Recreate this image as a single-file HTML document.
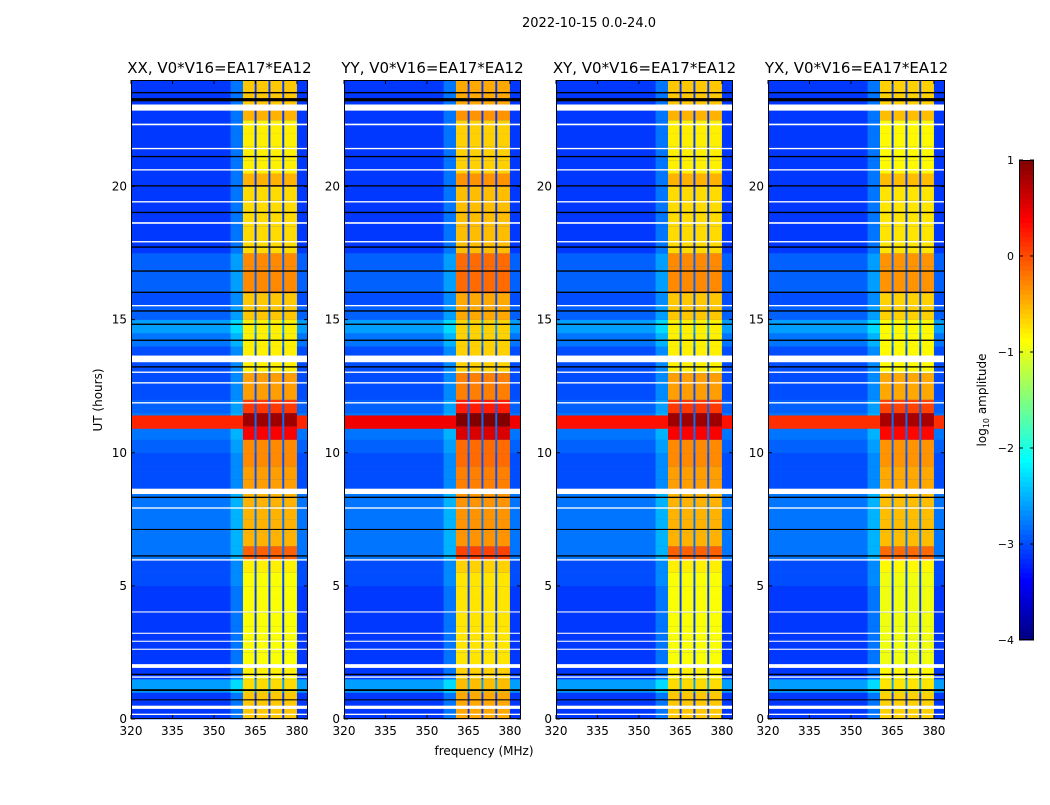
<!DOCTYPE html>
<html><head><meta charset="utf-8">
<style>
body{margin:0;background:#fff;}
svg text{font-family:"DejaVu Sans","Liberation Sans",sans-serif;fill:#000;}
</style></head>
<body>
<svg id="fig" width="1050" height="800" viewBox="0 0 1050 800" xmlns="http://www.w3.org/2000/svg">
<rect width="1050" height="800" fill="#fff"/>
<text x="589" y="27" font-size="13" text-anchor="middle">2022-10-15 0.0-24.0</text>
<text x="484" y="755" font-size="12" text-anchor="middle">frequency (MHz)</text>
<text transform="translate(102,400) rotate(-90)" font-size="12" text-anchor="middle">UT (hours)</text>
<g id="panels"></g>
<g id="cbar"></g>
</svg>
<script>
// ---- data ----
const panelTitles = ["XX, V0*V16=EA17*EA12","YY, V0*V16=EA17*EA12","XY, V0*V16=EA17*EA12","YX, V0*V16=EA17*EA12"];
const xTicks = [320,335,350,365,380];
const yTicks = [0,5,10,15,20];
const cbarTicks = [1,0,-1,-2,-3,-4];
// band (360-380 MHz) log amplitude per half-hour bin, 48 bins (0..24h)
const bandLevel = [-0.6,-0.6,-0.7,-0.8,-0.9,-0.9,-0.9,-0.9,-0.9,-0.9,-0.9,-0.8,
  -0.1,-0.5,-0.5,-0.5,-0.5,-0.4,-0.4,-0.3,-0.3,0.4,0.85,0.1,
  -0.4,-0.4,-0.8,-0.8,-0.8,-0.8,-0.6,-0.6,-0.3,-0.3,-0.3,-0.7,-0.7,-0.7,-0.7,-0.7,
  -0.5,-0.8,-0.8,-0.8,-0.8,-0.5,-0.6,-0.6];
// background level per half-hour bin
const bgLevel = [-3.1,-3.1,-2.6,-3.1,-3.1,-3.1,-3.1,-3.1,-3.1,-3.1,-3.0,-3.0,
  -2.8,-2.8,-2.8,-2.8,-2.8,-3.0,-3.0,-3.0,-2.9,-2.8,-2.8,-2.9,
  -3.0,-3.0,-3.0,-3.0,-2.8,-2.6,-2.9,-3.0,-2.9,-2.9,-2.9,-3.1,-3.1,-3.1,-3.1,-3.1,
  -3.1,-3.1,-3.1,-3.1,-3.1,-3.1,-3.1,-3.1];
// per-panel offsets
const panelBandOffset = [0, 0.15, 0, -0.05];
const panelLineLevel = [0.2, 0.45, 0.3, 0.15];
// full-width RFI line (hours)
const rfiLine = [10.9, 11.4];
// sub-bands (MHz)
const subBands = [[360.5,364.7],[365.4,369.7],[370.4,374.7],[375.4,380.0]];
// flagged rows [start,end] hours
const whiteRows = [[22.85,23.08],[13.4,13.65],[8.45,8.65],[1.92,2.06],[0.38,0.5],[22.3,22.36],[21.4,21.45],[20.6,20.65],[19.4,19.45],[18.6,18.66],[17.9,17.95],[15.5,15.55],[13.0,13.05],[12.6,12.65],[11.85,11.9],[7.9,7.95],[5.95,6.0],[4.0,4.04],[3.2,3.24],[2.9,2.94],[2.6,2.64],[1.55,1.6],[0.15,0.2]];
const blackRows = [[23.2,23.32],[23.5,23.55],[21.1,21.15],[20.0,20.05],[19.0,19.05],[17.7,17.75],[16.8,16.85],[16.0,16.05],[15.3,15.35],[14.8,14.85],[14.2,14.25],[13.2,13.25],[8.3,8.35],[7.1,7.14],[6.1,6.15],[1.65,1.7],[1.05,1.12],[0.7,0.74]];

// ---- helpers ----
const NS="http://www.w3.org/2000/svg";
const lefts=[131,344,556,768], W=177, TOP=80, BOT=719;
function jet(v){
  let t=(v+4)/5; t=Math.max(0,Math.min(1,t));
  function c(x){return Math.max(0,Math.min(1,x));}
  const r=c(1.5-Math.abs(4*t-3)), g=c(1.5-Math.abs(4*t-2)), b=c(1.5-Math.abs(4*t-1));
  return `rgb(${Math.round(r*255)},${Math.round(g*255)},${Math.round(b*255)})`;
}
function mk(tag,attrs,parent){const e=document.createElementNS(NS,tag);for(const k in attrs)e.setAttribute(k,attrs[k]);parent.appendChild(e);return e;}
const panelsG=document.getElementById('panels');

for(let p=0;p<4;p++){
  const L=lefts[p];
  const xs=f=>L+(f-320)/64*W;
  const ys=h=>BOT-h/24*(BOT-TOP);
  const g=mk('g',{},panelsG);
  
  
  for(let i=0;i<bandLevel.length;i++){
    const h0=i*0.5,h1=h0+0.5;
    const y=ys(h1),hh=ys(h0)-ys(h1);
    const bg=mk('rect',{x:xs(320),y:y,width:W,height:hh+0.3,fill:jet(bgLevel[i])},g);
    
    
    const tr=mk('rect',{x:xs(356),y:y,width:xs(360.5)-xs(356),height:hh+0.3,fill:jet(bgLevel[i]+0.3)},g);
    
    
    for(const sb of subBands){
      const r=mk('rect',{x:xs(sb[0]),y:y,width:xs(sb[1])-xs(sb[0]),height:hh+0.3,fill:jet(bandLevel[i]+panelBandOffset[p])},g);
      
      
    }
  }
  // RFI line
  const rl=mk('rect',{x:xs(320),y:ys(rfiLine[1]),width:xs(360.5)-xs(320),height:ys(rfiLine[0])-ys(rfiLine[1]),fill:jet(panelLineLevel[p])},g);
  
  
  const rl2=mk('rect',{x:xs(380),y:ys(rfiLine[1]),width:xs(384)-xs(380),height:ys(rfiLine[0])-ys(rfiLine[1]),fill:jet(panelLineLevel[p])},g);
  
  
  for(const w of whiteRows){
    const r=mk('rect',{x:L,y:ys(w[1]),width:W,height:Math.max(1,ys(w[0])-ys(w[1])),fill:'#fff'},g);
    
    
  }
  for(const b of blackRows){
    const r=mk('rect',{x:L,y:ys(b[1]),width:W,height:Math.max(1,ys(b[0])-ys(b[1])),fill:'#000'},g);
    
    
  }
  const fr=mk('rect',{x:L+0.5,y:TOP+0.5,width:W-1,height:BOT-TOP-1,fill:'none',stroke:'#000','stroke-width':1},g);
  
  
  const t=mk('text',{x:L+W/2,y:TOP-7,'font-size':15,'text-anchor':'middle'},g);
  t.textContent=panelTitles[p];
  
  
  for(const f of xTicks){
    const x=xs(f);
    mk('line',{x1:x,x2:x,y1:BOT,y2:BOT-4,stroke:'#000'},g);
    mk('line',{x1:x,x2:x,y1:TOP,y2:TOP+4,stroke:'#000'},g);
    const tx=mk('text',{x:x,y:BOT+16,'font-size':12,'text-anchor':'middle'},g);
    tx.textContent=f;
    
    
  }
  for(const h of yTicks){
    const y=ys(h);
    mk('line',{x1:L,x2:L+4,y1:y,y2:y,stroke:'#000'},g);
    mk('line',{x1:L+W,x2:L+W-4,y1:y,y2:y,stroke:'#000'},g);
    const ty=mk('text',{x:L-4,y:y+4,'font-size':12,'text-anchor':'end'},g);
    ty.textContent=h;
    
    
  }
}
// colorbar
const cb=document.getElementById('cbar');


const CX=1019,CW=15,CT=160,CB=640;
const cys=v=>CB-(v+4)/5*(CB-CT);
for(let i=0;i<100;i++){
  const v0=-4+i*0.05;
  mk('rect',{x:CX,y:cys(v0+0.05),width:CW,height:(CB-CT)/100+0.5,fill:jet(v0+0.025)},cb);
}
mk('rect',{x:CX+0.5,y:CT+0.5,width:CW-1,height:CB-CT-1,fill:'none',stroke:'#000'},cb);
for(const v of cbarTicks){
  const y=cys(v);
  mk('line',{x1:CX,x2:CX+4,y1:y,y2:y,stroke:'#000'},cb);
  mk('line',{x1:CX+CW,x2:CX+CW-4,y1:y,y2:y,stroke:'#000'},cb);
  const t=mk('text',{x:CX-5,y:y+4,'font-size':11,'text-anchor':'end'},cb);
  t.textContent=(v<0?'\u2212'+(-v):v);
  
  
}
const lab=mk('text',{transform:'translate(986,400) rotate(-90)','font-size':12,'text-anchor':'middle'},cb);
lab.innerHTML='log<tspan font-size="8" dy="3">10</tspan><tspan dy="-3"> amplitude</tspan>';


</script>
</body></html>
